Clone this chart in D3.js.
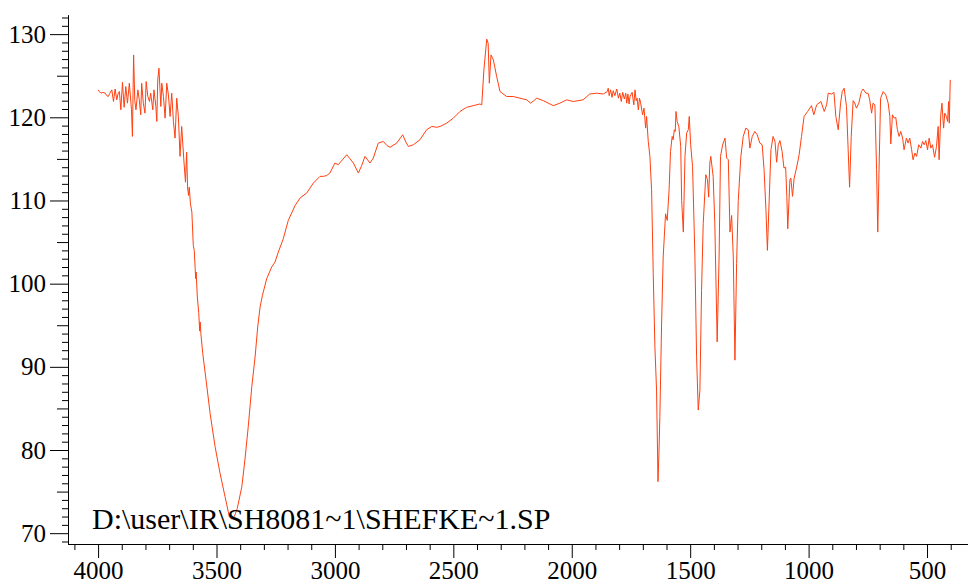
<!DOCTYPE html>
<html>
<head>
<meta charset="utf-8">
<script src="https://cdn.jsdelivr.net/npm/d3@7"></script>
<style>
	body { margin: 0; background: #fff; }
	text { font-family: "Liberation Serif", "Times New Roman", serif; }
</style>
</head>
<body>
<script>
// spectrum points as [wavenumber (cm-1), transmittance]
var noisyTop = [
	[4000,123.3],[3995,123.1],[3988,122.9],[3980,123.0],[3970,122.9],[3963,122.6],[3957,122.5],[3950,122.9],
	[3942,123.3],[3935,121.9],[3928,123.4],[3921,122.1],[3916,122.8],[3910,123.1],[3904,120.9],[3897,124.2],
	[3890,121.2],[3883,123.7],[3876,121.7],[3868,124.1],[3859,120.9],[3855,117.7],[3850,127.5],[3845,122.0],
	[3840,120.9],[3832,123.3],[3826,122.1],[3820,120.3],[3816,124.1],[3809,121.7],[3802,120.5],[3797,124.3],
	[3790,122.5],[3783,121.9],[3778,122.9],[3769,120.9],[3764,123.3],[3756,121.3],[3752,119.5],[3748,124.5],
	[3743,125.9],[3735,121.3],[3731,124.1],[3724,122.5],[3717,119.9],[3710,124.1],[3703,122.7],[3696,120.1],
	[3689,122.9],[3682,119.5],[3675,117.5],[3668,122.3],[3661,120.1],[3654,115.3],[3647,118.9],[3637,114.5],
	[3631,112.2],[3626,115.8],[3622,111.5],[3618,110.6],[3615,111.6],[3610,109.6]
];
var ohBand = [
	[3604,108.6],[3598,104.6],[3594,104.0],[3590,101.8],[3588,100.6],[3586,101.4],[3581,98.4],[3575,96.5],
	[3571,94.3],[3569,95.4],[3566,94.0],[3558,91.6],[3544,88.4],[3527,84.4],[3506,80.4],[3485,77.2],
	[3464,74.4],[3446,72.0],[3436,71.7],[3428,71.9],[3422,72.2],[3412,73.0],[3393,75.6],[3380,78.8],
	[3366,82.8],[3351,87.6],[3337,91.2],[3326,94.8],[3316,97.2],[3306,98.6],[3288,100.6],[3267,102.0],
	[3253,102.6],[3239,103.8],[3218,105.4],[3197,107.6],[3168,109.4],[3147,110.3]
];
var midRange = [
	[3119,110.9],[3091,112.1],[3063,112.9],[3049,112.9],[3035,113.0],[3021,113.3],[3000,114.5],[2986,114.3],
	[2968,114.9],[2950,115.5],[2936,115.0],[2922,114.5],[2901,113.3],[2887,114.2],[2873,115.3],[2852,114.5],
	[2838,115.1],[2817,116.9],[2796,117.1],[2780,116.6],[2767,116.4],[2739,116.9],[2714,117.9],[2700,117.0],
	[2690,116.5],[2669,116.7],[2641,117.3],[2613,118.5],[2591,118.9],[2570,118.8],[2556,118.9],[2528,119.3],
	[2500,119.9],[2472,120.7],[2444,121.2],[2416,121.4],[2388,121.6],[2380,121.5],[2371,125.7],[2359,129.4],
	[2353,128.9],[2348,124.1],[2341,127.5],[2331,126.9],[2317,124.9],[2303,123.1],[2275,122.5],[2247,122.5],
	[2219,122.3],[2190,122.1],[2174,121.7],[2160,122.0],[2148,122.3],[2120,122.0],[2078,121.4],[2050,121.7],
	[2022,122.1],[1994,121.9],[1952,122.1],[1924,122.8],[1895,122.9],[1867,122.8],[1850,123.1],[1846,123.5],
	[1842,122.6],[1836,123.3],[1830,122.4],[1825,123.2],[1818,122.6],[1810,123.4],[1803,122.3],[1797,122.9],
	[1791,121.9],[1785,123.0],[1778,122.2],[1772,122.9],[1768,121.7],[1763,122.8],[1758,121.6]
];
var fingerprint = [
	[1754,122.5],[1745,123.0],[1738,121.5],[1733,123.3],[1728,122.0],[1724,122.3],[1719,120.9],[1714,122.3],
	[1709,121.7],[1701,120.3],[1695,121.1],[1688,118.7],[1684,120.1],[1677,117.1],[1670,115.3],[1663,111.3],
	[1656,101.2],[1649,92.4],[1642,87.2],[1638,80.0],[1636,76.2],[1632,79.5],[1628,84.0],[1621,94.8],
	[1614,103.2],[1604,108.4],[1597,107.6],[1589,111.3],[1583,115.9],[1576,117.7],[1572,117.3],[1567,118.5],
	[1563,118.3],[1560,120.7],[1555,119.5],[1548,118.9],[1540,116.5],[1536,110.0],[1529,106.2],[1522,115.3],
	[1515,118.1],[1508,118.5],[1504,120.1],[1498,116.7],[1490,114.1],[1480,103.2],[1473,91.2],[1466,84.8],
	[1459,87.2],[1452,99.2],[1445,107.2],[1434,113.1],[1427,112.5],[1422,110.4],[1417,114.5],[1413,115.3],
	[1403,112.9],[1396,107.2],[1386,93.0],[1378,103.2],[1372,115.3],[1363,116.7],[1353,117.5],[1346,115.1],
	[1339,114.9],[1332,106.2],[1325,108.2],[1318,103.2],[1311,90.8],[1304,102.4],[1297,110.0],[1286,115.3],
	[1276,117.7],[1265,118.7],[1255,118.5],[1248,116.3],[1238,117.7],[1227,118.3],[1217,117.9],[1206,116.9],
	[1196,116.7],[1188,113.7],[1180,108.8],[1174,104.0],[1166,110.4],[1159,116.1],[1150,117.7],[1142,117.1],
	[1135,114.6],[1128,116.7],[1121,117.2],[1112,115.9],[1104,113.9],[1097,114.0],[1092,110.5],[1088,106.6],
	[1079,112.5],[1075,112.7],[1068,110.5],[1061,112.7],[1051,113.9],[1040,115.5],[1030,117.7],[1019,120.1],
	[1004,120.7],[988,121.4],[978,120.3],[966,121.5],[948,121.9],[934,120.7],[924,121.5],[917,122.9]
];
var lowRange = [
	[903,122.8],[893,123.0],[885,120.1],[875,118.5],[865,121.7],[858,123.1],[850,123.5],[840,121.3],
	[833,116.1],[827,111.6],[820,117.7],[812,122.0],[805,121.7],[798,121.1],[788,121.7],[777,123.1],
	[770,123.4],[758,122.9],[749,122.9],[742,122.1],[734,120.5],[728,121.7],[720,121.5],[713,113.7],
	[708,106.2],[702,114.5],[696,122.3],[685,123.1],[674,122.7],[664,121.7],[657,120.1],[653,116.8],
	[646,120.3],[639,119.9],[632,120.0],[625,118.5],[618,117.7],[611,118.3],[603,117.5],[597,116.1],
	[587,117.5],[580,116.9],[573,117.5],[565,116.1],[559,114.9],[551,115.7],[544,115.3],[535,116.7],
	[526,116.3],[519,117.1],[512,116.7],[505,117.2],[498,116.1],[491,117.5],[484,116.3],[477,116.7],
	[468,115.2],[460,116.5],[453,118.9],[449,114.9],[442,120.3],[437,121.7],[430,118.7],[425,120.5],
	[418,120.1],[413,119.5],[409,121.9],[406,119.3],[402,124.5]
];

var xMajor = [4000, 3500, 3000, 2500, 2000, 1500, 1000, 500];
var yMajor = [70, 80, 90, 100, 110, 120, 130];
var fileLabel = "D:\\user\\IR\\SH8081~1\\SHEFKE~1.SP";

var spectrum = noisyTop.concat(ohBand, midRange, fingerprint, lowRange);

var width = 968, height = 583;

var svg = d3.select("body")
		.append("svg")
		.attr("width", width)
		.attr("height", height);

var x = d3.scaleLinear().domain([4127, 327]).range([68, 968]);
var y = d3.scaleLinear().domain([68.7, 132.3]).range([544, 15]);

var xMinor = d3.range(400, 4101, 100).filter(function(d) { return d % 500 !== 0; });
var yMid = d3.range(75, 126, 10);
var yMinor = d3.range(69, 133, 1).filter(function(d) { return d % 5 !== 0; });

function styleAxis(g) {
	g.attr("font-family", "Liberation Serif");
	g.selectAll("path, line").attr("stroke", "#000").attr("stroke-width", 1);
	g.selectAll("text").attr("fill", "#000").style("font-size", "25px");
}

// x axis: minor first, then labelled majors
svg.append("g")
		.attr("transform", "translate(0,544)")
		.call(d3.axisBottom(x).tickValues(xMinor).tickSize(6).tickSizeOuter(0).tickFormat(""))
		.call(styleAxis);
svg.append("g")
		.attr("transform", "translate(0,544)")
		.call(d3.axisBottom(x).tickValues(xMajor).tickSize(14).tickSizeOuter(0).tickPadding(3).tickFormat(d3.format("d")))
		.call(styleAxis);

// y axis
svg.append("g")
		.attr("transform", "translate(68,0)")
		.call(d3.axisLeft(y).tickValues(yMinor).tickSize(6).tickSizeOuter(0).tickFormat(""))
		.call(styleAxis);
svg.append("g")
		.attr("transform", "translate(68,0)")
		.call(d3.axisLeft(y).tickValues(yMid).tickSize(11).tickSizeOuter(0).tickFormat(""))
		.call(styleAxis);
svg.append("g")
		.attr("transform", "translate(68,0)")
		.call(d3.axisLeft(y).tickValues(yMajor).tickSize(18).tickSizeOuter(0).tickPadding(4).tickFormat(d3.format("d")))
		.call(styleAxis);

var line = d3.line()
		.x(function(d) { return x(d[0]); })
		.y(function(d) { return y(d[1]); });

svg.append("path")
		.datum(spectrum)
		.attr("d", line)
		.attr("fill", "none")
		.attr("stroke", "#ff4010")
		.attr("stroke-width", 1)
		.attr("stroke-linejoin", "round");

svg.append("text")
		.attr("x", 92)
		.attr("y", 529)
		.style("font-size", "30px")
		.attr("fill", "#000")
		.text(fileLabel);
</script>
</body>
</html>
